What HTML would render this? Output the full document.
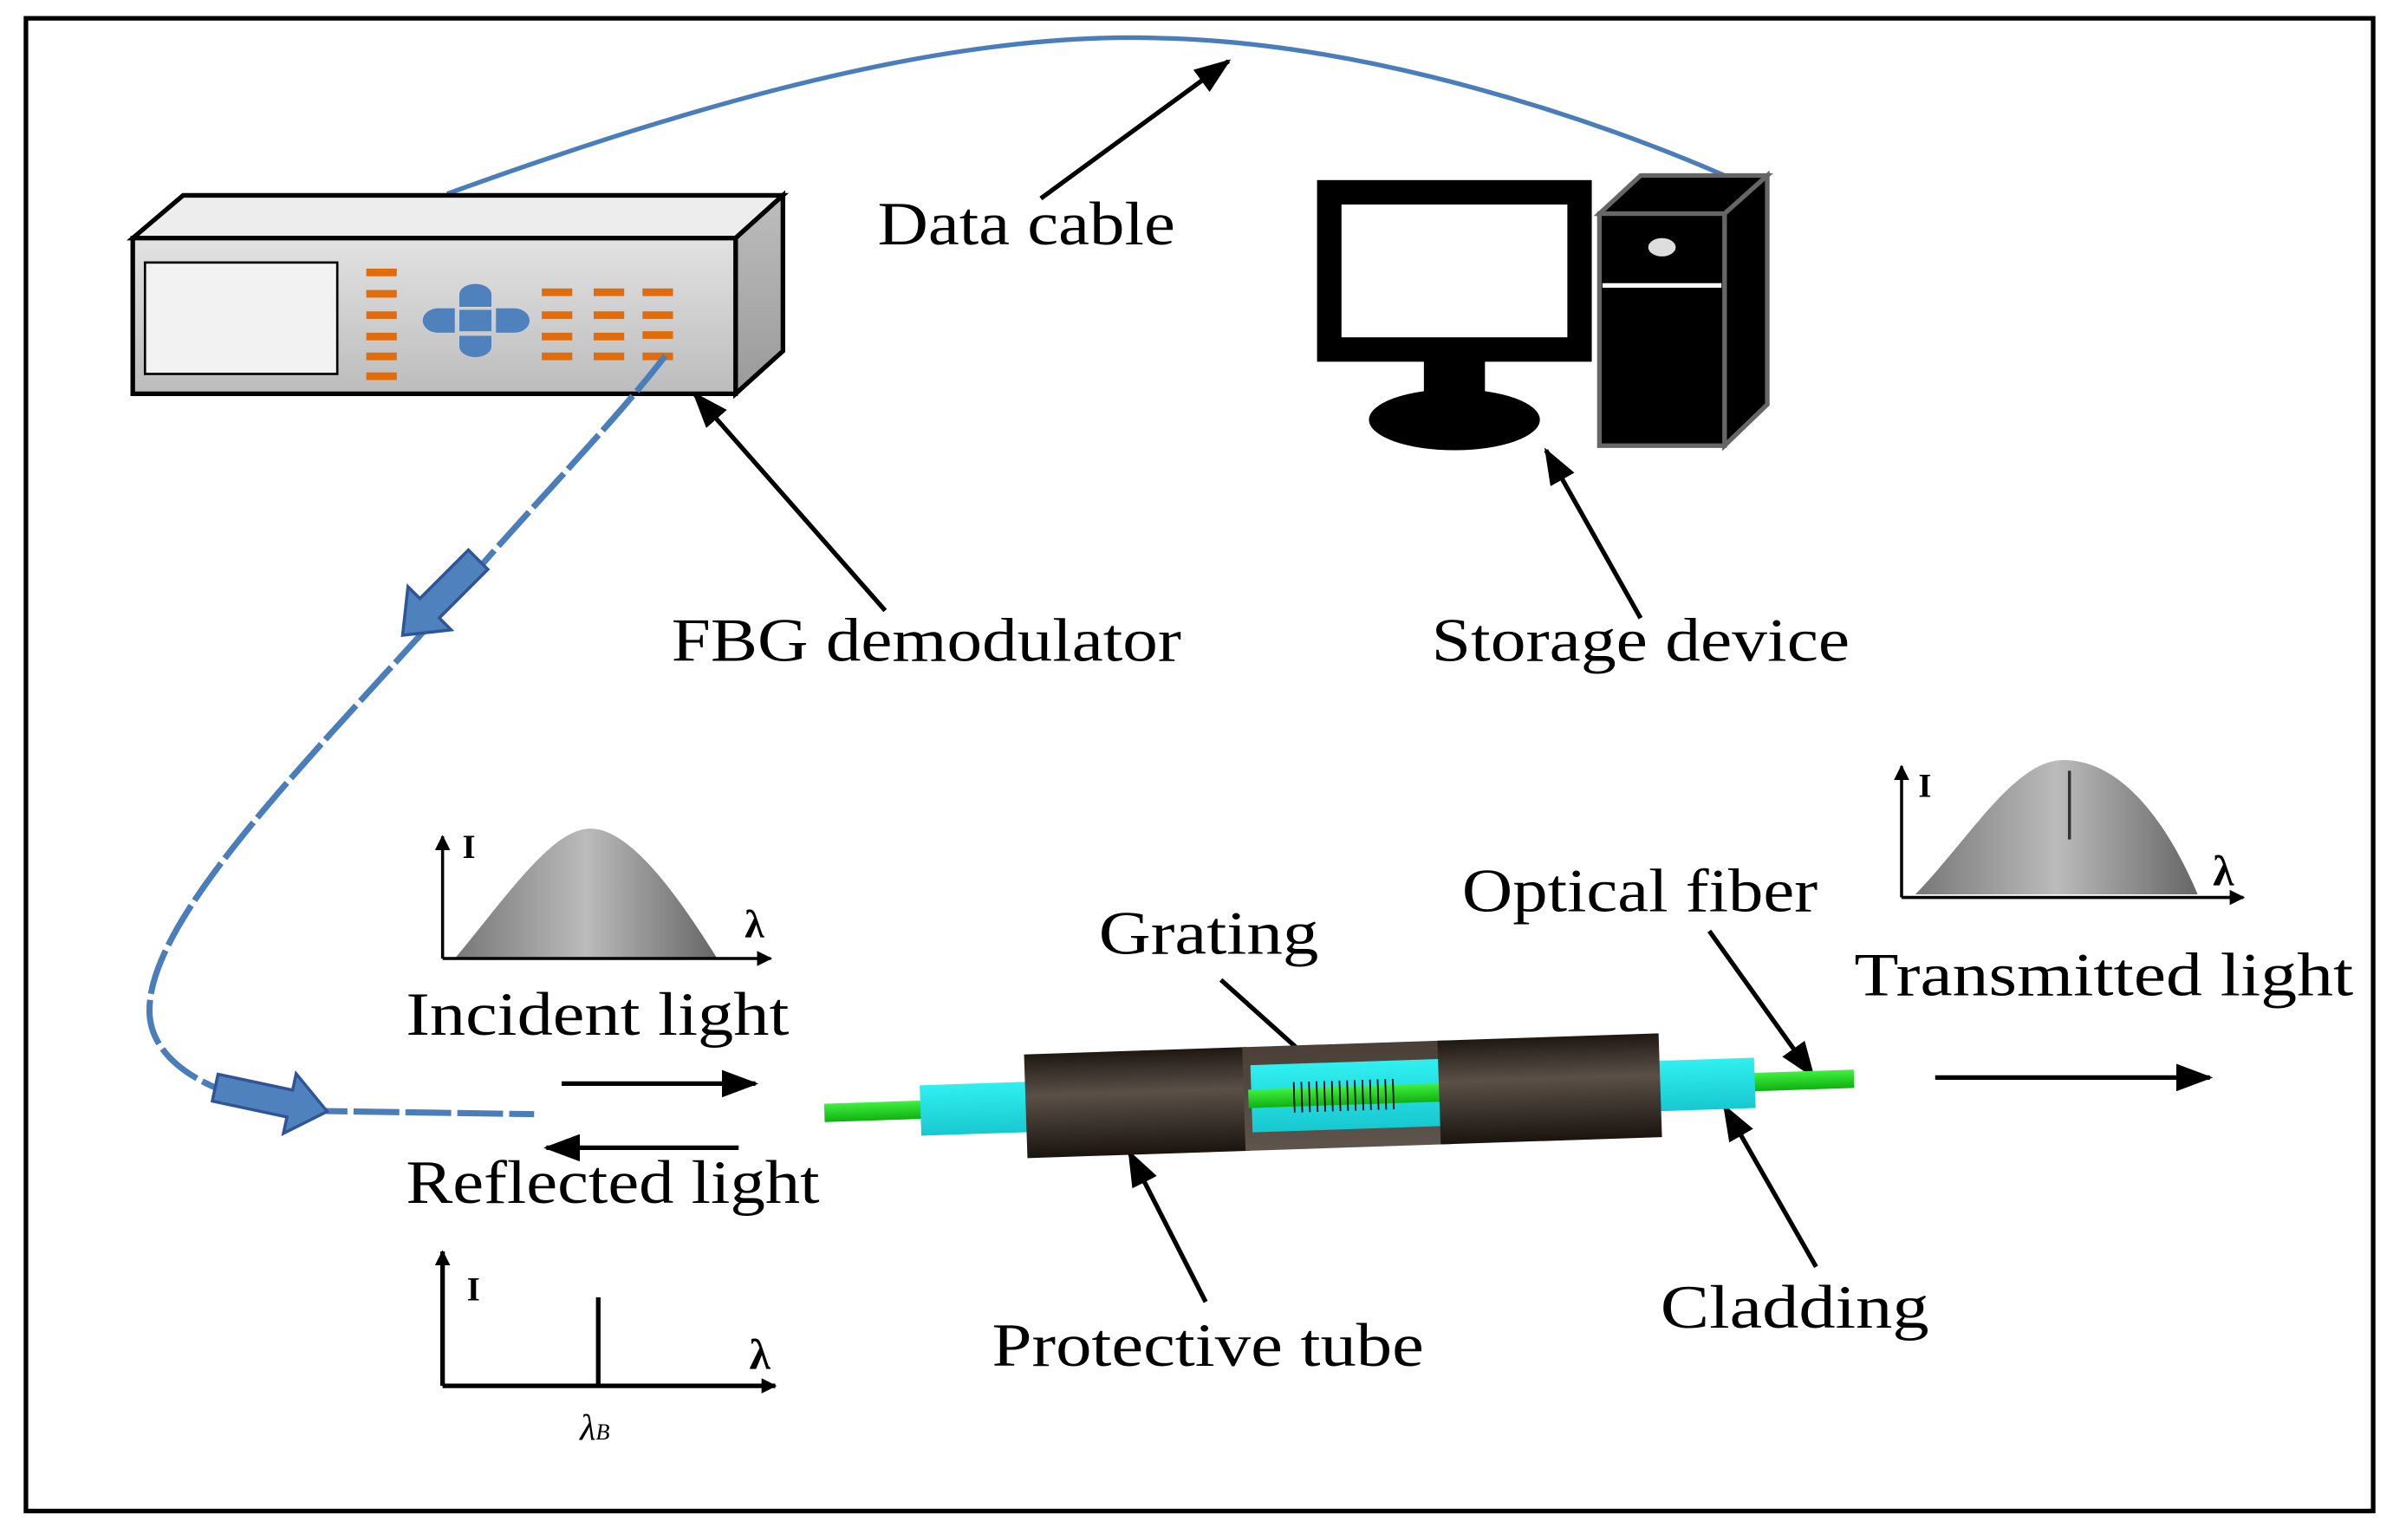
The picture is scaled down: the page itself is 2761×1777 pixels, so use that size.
<!DOCTYPE html>
<html><head><meta charset="utf-8"><style>html,body{margin:0;padding:0;background:#fff}svg{display:block}</style></head>
<body>
<svg width="2761" height="1777" viewBox="0 0 1568 1009" preserveAspectRatio="none" xmlns="http://www.w3.org/2000/svg">
<defs>
<linearGradient id="front" x1="0" y1="0" x2="0" y2="1"><stop offset="0" stop-color="#e2e2e2"/><stop offset="1" stop-color="#bcbcbc"/></linearGradient>
<linearGradient id="side" x1="0" y1="0" x2="0" y2="1"><stop offset="0" stop-color="#bdbdbd"/><stop offset="1" stop-color="#9a9a9a"/></linearGradient>
<linearGradient id="bump" x1="0" y1="0" x2="1" y2="0"><stop offset="0" stop-color="#777"/><stop offset="0.5" stop-color="#bbb"/><stop offset="1" stop-color="#666"/></linearGradient>
<linearGradient id="tube" x1="0" y1="0" x2="0" y2="1"><stop offset="0" stop-color="#1e1812"/><stop offset="0.4" stop-color="#5a5048"/><stop offset="1" stop-color="#1a140f"/></linearGradient>
<linearGradient id="mid" x1="0" y1="0" x2="0" y2="1"><stop offset="0" stop-color="#4a4038"/><stop offset="1" stop-color="#5e544c"/></linearGradient>
<linearGradient id="cyan" x1="0" y1="0" x2="0" y2="1"><stop offset="0" stop-color="#30f0f0"/><stop offset="1" stop-color="#18c8d0"/></linearGradient>
<linearGradient id="green" x1="0" y1="0" x2="0" y2="1"><stop offset="0" stop-color="#40f040"/><stop offset="1" stop-color="#10b010"/></linearGradient>
<marker id="ah" markerWidth="10" markerHeight="10" refX="9" refY="5" orient="auto" markerUnits="userSpaceOnUse" viewBox="0 0 10 10"><path d="M0,0 L10,5 L0,10 z" fill="#000"/></marker>
<marker id="ah2" markerWidth="24" markerHeight="18" refX="22" refY="9" orient="auto" markerUnits="userSpaceOnUse"><path d="M0,0 L24,9 L0,18 z" fill="#000"/></marker>
</defs>
<rect x="17" y="12" width="1538" height="978" fill="#fff" stroke="#000" stroke-width="3"/>

<path d="M293,127 C450,70 620,20 760,25 C900,28 1050,80 1130,115" fill="none" stroke="#4a7ebb" stroke-width="3"/>

<polygon points="87,156 120,128 513,128 482,156" fill="#ededed" stroke="#000" stroke-width="3"/>
<polygon points="482,156 513,128 513,230 482,258" fill="url(#side)" stroke="#000" stroke-width="3"/>
<rect x="87" y="156" width="395" height="102" fill="url(#front)" stroke="#000" stroke-width="3"/>
<rect x="95" y="172" width="126" height="73" fill="#f2f2f2" stroke="#000" stroke-width="1.5"/>
<g fill="#e36c0a">
<rect x="240" y="176" width="20" height="5"/><rect x="240" y="190" width="20" height="5"/><rect x="240" y="204" width="20" height="5"/><rect x="240" y="218" width="20" height="5"/><rect x="240" y="231" width="20" height="5"/><rect x="240" y="244" width="20" height="5"/>
<rect x="355" y="189" width="20" height="5"/><rect x="389" y="189" width="20" height="5"/><rect x="421" y="189" width="20" height="5"/>
<rect x="355" y="204" width="20" height="5"/><rect x="389" y="204" width="20" height="5"/><rect x="421" y="204" width="20" height="5"/>
<rect x="355" y="218" width="20" height="5"/><rect x="389" y="218" width="20" height="5"/><rect x="421" y="217" width="20" height="5"/>
<rect x="355" y="231" width="20" height="5"/><rect x="389" y="231" width="20" height="5"/><rect x="421" y="231" width="20" height="5"/>
</g>
<g fill="#4f81bd">
<rect x="301" y="203" width="21" height="14"/>
<path d="M301,201 V193 a10.5,7 0 0 1 21,0 V201 z"/>
<path d="M301,220 V227 a10.5,7 0 0 0 21,0 V220 z"/>
<path d="M298,202 H287 a10,8 0 0 0 0,16 H298 z"/>
<path d="M325,202 H337 a10,8 0 0 1 0,16 H325 z"/>
</g>

<rect x="871" y="126" width="164" height="103" fill="#fff" stroke="#000" stroke-width="16"/>
<rect x="933" y="236" width="40" height="24" fill="#000"/>
<ellipse cx="953" cy="275" rx="56" ry="20" fill="#000"/>
<polygon points="1048,140 1075,115 1158,115 1130,140" fill="#000" stroke="#666" stroke-width="3"/>
<polygon points="1130,140 1158,115 1158,265 1130,292" fill="#000" stroke="#666" stroke-width="3"/>
<rect x="1048" y="140" width="82" height="152" fill="#000" stroke="#666" stroke-width="3"/>
<line x1="1050" y1="187" x2="1128" y2="187" stroke="#fff" stroke-width="3"/>
<ellipse cx="1089" cy="162" rx="9" ry="6" fill="#ddd"/>

<path d="M436,233 C400,280 340,340 290,400 C200,500 100,600 98,660 C96,700 150,725 215,728 L350,730" fill="none" stroke="#4a7ebb" stroke-width="4" stroke-dasharray="30,4"/>
<g transform="translate(285,395) rotate(135)"><path d="M-40,-9 H5 V-20 L30,0 L5,20 V9 H-40 z" fill="#4f81bd" stroke="#2f5597" stroke-width="2"/></g>
<g transform="translate(185,722) rotate(12)"><path d="M-45,-9 H5 V-20 L30,0 L5,20 V9 H-45 z" fill="#4f81bd" stroke="#2f5597" stroke-width="2"/></g>

<g font-family="Liberation Serif, serif" fill="#000" font-size="40">
<text x="575" y="160" textLength="195" lengthAdjust="spacingAndGlyphs">Data cable</text>
<text x="440" y="433" textLength="334" lengthAdjust="spacingAndGlyphs">FBG demodulator</text>
<text x="938" y="433" textLength="274" lengthAdjust="spacingAndGlyphs">Storage device</text>
<text x="266" y="678" textLength="251" lengthAdjust="spacingAndGlyphs">Incident light</text>
<text x="266" y="788" textLength="271" lengthAdjust="spacingAndGlyphs">Reflected light</text>
<text x="720" y="625" textLength="144" lengthAdjust="spacingAndGlyphs">Grating</text>
<text x="958" y="597" textLength="233" lengthAdjust="spacingAndGlyphs">Optical fiber</text>
<text x="1215" y="652" textLength="327" lengthAdjust="spacingAndGlyphs">Transmitted light</text>
<text x="650" y="895" textLength="283" lengthAdjust="spacingAndGlyphs">Protective tube</text>
<text x="1088" y="870" textLength="176" lengthAdjust="spacingAndGlyphs">Cladding</text>
</g>
<g stroke="#000" stroke-width="3" fill="none">
<line x1="682" y1="130" x2="805" y2="40" marker-end="url(#ah2)"/>
<line x1="580" y1="400" x2="455" y2="258" marker-end="url(#ah2)"/>
<line x1="1075" y1="405" x2="1013" y2="295" marker-end="url(#ah2)"/>
<line x1="800" y1="642" x2="878" y2="712" marker-end="url(#ah2)"/>
<line x1="1120" y1="610" x2="1188" y2="705" marker-end="url(#ah2)"/>
<line x1="790" y1="853" x2="740" y2="755" marker-end="url(#ah2)"/>
<line x1="1190" y1="830" x2="1130" y2="725" marker-end="url(#ah2)"/>
<line x1="368" y1="710" x2="495" y2="710" marker-end="url(#ah2)"/>
<line x1="484" y1="752" x2="358" y2="752" marker-end="url(#ah2)"/>
<line x1="1268" y1="706" x2="1448" y2="706" marker-end="url(#ah2)"/>
</g>

<path d="M298,628 C330,590 360,545 385,543 C410,541 440,580 470,628 z" fill="url(#bump)"/>
<g stroke="#000" stroke-width="2" fill="none">
<line x1="290" y1="628" x2="290" y2="548" marker-end="url(#ah)"/>
<line x1="290" y1="628" x2="505" y2="628" marker-end="url(#ah)"/>
</g>
<text x="303" y="562" font-family="Liberation Serif, serif" font-size="22" font-weight="bold">I</text>
<text x="488" y="614" font-family="Liberation Serif, serif" font-size="26" font-weight="bold">λ</text>

<g stroke="#000" stroke-width="3" fill="none">
<line x1="290" y1="908" x2="290" y2="820" marker-end="url(#ah)"/>
<line x1="290" y1="908" x2="508" y2="908" marker-end="url(#ah)"/>
<line x1="392" y1="850" x2="392" y2="908"/>
</g>
<text x="306" y="852" font-family="Liberation Serif, serif" font-size="22" font-weight="bold">I</text>
<text x="491" y="897" font-family="Liberation Serif, serif" font-size="28" font-weight="bold">λ</text>
<text x="380" y="943" font-family="Liberation Serif, serif" font-size="24" font-style="italic">λ<tspan font-size="15">B</tspan></text>

<path d="M1255,586 C1290,550 1320,498 1352,498 C1395,498 1425,550 1440,586 z" fill="url(#bump)"/>
<line x1="1356" y1="505" x2="1356" y2="550" stroke="#333" stroke-width="2"/>
<g stroke="#000" stroke-width="2" fill="none">
<line x1="1246" y1="588" x2="1246" y2="502" marker-end="url(#ah)"/>
<line x1="1246" y1="588" x2="1470" y2="588" marker-end="url(#ah)"/>
</g>
<text x="1257" y="522" font-family="Liberation Serif, serif" font-size="22" font-weight="bold">I</text>
<text x="1450" y="580" font-family="Liberation Serif, serif" font-size="28" font-weight="bold">λ</text>

<g transform="rotate(-1.9 878 718)">
<rect x="540" y="712" width="675" height="12" fill="url(#green)"/>
<rect x="603" y="702" width="77" height="33" fill="url(#cyan)"/>
<rect x="1085" y="702" width="65" height="33" fill="url(#cyan)"/>
<rect x="672" y="684" width="146" height="68" fill="url(#tube)"/>
<rect x="815" y="684" width="135" height="68" fill="url(#mid)"/>
<rect x="820" y="696" width="125" height="44" fill="url(#cyan)"/>
<rect x="818" y="712" width="130" height="12" fill="url(#green)"/>
<g stroke="#000" stroke-width="1">
<line x1="848" y1="708" x2="848" y2="728"/><line x1="853" y1="708" x2="853" y2="728"/><line x1="858" y1="708" x2="858" y2="728"/><line x1="863" y1="708" x2="863" y2="728"/><line x1="868" y1="708" x2="868" y2="728"/><line x1="873" y1="708" x2="873" y2="728"/><line x1="878" y1="708" x2="878" y2="728"/><line x1="883" y1="708" x2="883" y2="728"/><line x1="888" y1="708" x2="888" y2="728"/><line x1="893" y1="708" x2="893" y2="728"/><line x1="898" y1="708" x2="898" y2="728"/><line x1="903" y1="708" x2="903" y2="728"/><line x1="908" y1="708" x2="908" y2="728"/><line x1="913" y1="708" x2="913" y2="728"/>
</g>
<rect x="943" y="684" width="145" height="68" fill="url(#tube)"/>
</g>
</svg>
</body></html>
